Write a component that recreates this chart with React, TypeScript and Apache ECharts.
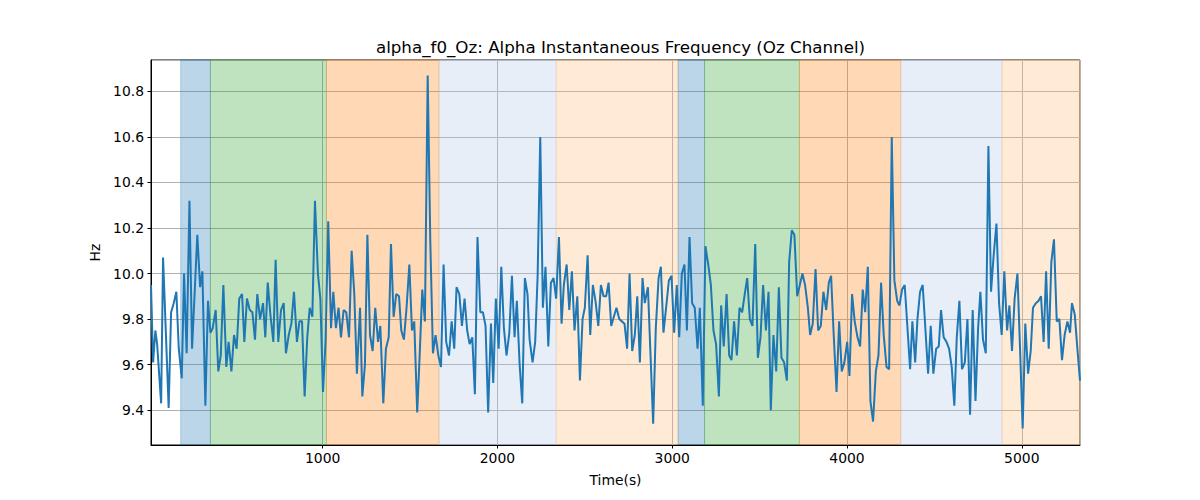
import React, { useEffect, useRef } from 'react';
import * as echarts from 'echarts';

// sample times (s) and alpha instantaneous frequency (Hz)
const times = [
  18, 30, 43, 53, 76, 87, 119, 133, 148, 163, 177, 194, 207, 222, 238, 253, 283, 299, 312, 329,
  344, 358, 371, 388, 403, 417, 432, 449, 462, 478, 493, 508, 523, 539, 552, 567, 583, 598, 613, 626,
  642, 659, 672, 686, 701, 718, 731, 746, 762, 777, 790, 806, 821, 836, 853, 867, 882, 897, 912, 926,
  941, 956, 973, 987, 1002, 1017, 1032, 1048, 1061, 1076, 1091,
  1105, 1120, 1135, 1151, 1166, 1181, 1196, 1214, 1227, 1242, 1256, 1271, 1286, 1301, 1317, 1330, 1347, 1362, 1378, 1391,
  1406, 1421, 1437, 1450, 1465, 1480, 1496, 1511, 1524, 1541, 1555, 1570, 1585, 1601, 1616, 1631, 1646, 1662, 1677, 1692,
  1707, 1723, 1738, 1753, 1766, 1782, 1797, 1812, 1827, 1841, 1856, 1871, 1886, 1902, 1917, 1932, 1947, 1963, 1976, 1991,
  2007, 2022, 2037, 2052, 2068, 2083, 2098, 2111, 2127, 2142, 2157, 2172,
  2184, 2201, 2216, 2230, 2245, 2260, 2275, 2291, 2306, 2321, 2336, 2352, 2367, 2380, 2396, 2411, 2426, 2441, 2457, 2472,
  2487, 2500, 2516, 2531, 2546, 2561, 2577, 2592, 2607, 2622, 2636, 2651, 2666, 2681, 2697, 2712, 2727, 2742, 2756, 2771,
  2786, 2800, 2815, 2830, 2843, 2861, 2876, 2891, 2906, 2922, 2935, 2950, 2965, 2981, 2996, 3011, 3026, 3040, 3055, 3070,
  3084, 3099, 3114, 3129, 3145, 3158, 3175, 3190, 3206, 3221, 3236, 3251, 3267,
  3280, 3295, 3311, 3326, 3339, 3354, 3370, 3385, 3400, 3415, 3429, 3444, 3459, 3475, 3490, 3505, 3520, 3536, 3551, 3564,
  3579, 3595, 3610, 3625, 3640, 3656, 3669, 3684, 3699, 3715, 3730, 3745, 3760, 3776, 3789, 3804, 3820, 3835, 3850, 3865,
  3881, 3896, 3909, 3924, 3940, 3955, 3970, 3985, 4001, 4014, 4029, 4044, 4060, 4075, 4090, 4104, 4119, 4134, 4149, 4165,
  4180, 4195, 4210, 4226, 4241, 4256, 4271, 4287, 4300, 4315, 4330, 4346, 4361,
  4374, 4390, 4403, 4418, 4433, 4449, 4464, 4479, 4494, 4510, 4525, 4538, 4553, 4569, 4584, 4599, 4614, 4628, 4643, 4658,
  4674, 4689, 4704, 4719, 4735, 4750, 4763, 4778, 4794, 4809, 4824, 4839, 4855, 4870, 4885, 4900, 4916, 4929, 4944, 4959,
  4975, 4990, 5005, 5020, 5036, 5051, 5064, 5080, 5095, 5110, 5125, 5139, 5154, 5169, 5184, 5200, 5215, 5230, 5245, 5261,
  5276, 5287, 5303, 5318, 5333,
];

const hz = [
  9.95, 9.61, 9.75, 9.69, 9.43, 10.07, 9.41, 9.83, 9.87, 9.92, 9.67, 9.54, 10.0, 9.65, 10.32, 9.67, 10.17, 9.94, 10.01, 9.42,
  9.88, 9.74, 9.76, 9.84, 9.57, 9.64, 9.95, 9.59, 9.7, 9.57, 9.73, 9.67, 9.89, 9.91, 9.7, 9.89, 9.84, 9.83, 9.71, 9.91,
  9.8, 9.87, 9.72, 9.96, 9.82, 9.7, 10.06, 9.7, 9.84, 9.87, 9.65, 9.73, 9.78, 9.92, 9.7, 9.79, 9.79, 9.46, 9.72, 9.85,
  9.81, 10.32, 10.0, 9.89, 9.48, 9.71, 10.23, 9.76, 9.92, 9.76, 9.85,
  9.72, 9.84, 9.83, 9.72, 10.1, 9.91, 9.56, 9.85, 9.46, 9.6, 10.17, 9.73, 9.66, 9.85, 9.7, 9.77, 9.43, 9.67, 9.72, 10.13,
  9.81, 9.91, 9.9, 9.75, 9.71, 9.85, 10.04, 9.75, 9.79, 9.39, 9.64, 9.93, 9.79, 10.87, 10.14, 9.65, 9.73, 9.64, 9.59, 10.04,
  9.7, 9.64, 9.79, 9.67, 9.94, 9.91, 9.77, 9.89, 9.75, 9.69, 9.72, 9.47, 10.16, 9.83, 9.83, 9.77, 9.39, 9.78, 9.52, 9.89,
  9.67, 10.03, 9.76, 9.64, 9.74, 9.99, 9.72, 9.88, 9.6, 9.43, 9.98, 9.91,
  9.71, 9.61, 9.7, 9.99, 10.6, 9.85, 10.03, 9.68, 9.96, 9.98, 9.89, 10.16, 9.78, 9.95, 10.04, 9.84, 10.01, 9.75, 9.9, 9.53,
  9.8, 9.85, 10.08, 9.73, 9.95, 9.88, 9.77, 9.95, 9.9, 9.9, 9.96, 9.77, 9.81, 9.85, 9.8, 9.79, 9.78, 9.67, 10.0, 9.66,
  9.73, 9.9, 9.61, 9.98, 9.87, 9.94, 9.64, 9.34, 9.76, 9.98, 10.03, 9.74, 9.85, 9.97, 9.99, 9.74, 9.95, 9.72, 10.0, 10.04,
  9.75, 10.16, 9.87, 9.85, 9.67, 9.85, 9.42, 10.12, 10.04, 9.95, 9.75, 9.69, 9.46,
  9.86, 9.68, 9.91, 9.64, 9.62, 9.79, 9.64, 9.85, 9.83, 9.91, 9.98, 9.8, 9.77, 10.13, 9.63, 9.72, 9.95, 9.75, 9.92, 9.4,
  9.73, 9.57, 9.94, 9.63, 9.61, 9.53, 10.05, 10.19, 10.17, 9.9, 9.95, 10.0, 9.95, 9.85, 9.73, 9.78, 10.02, 9.75, 9.77, 9.92,
  9.84, 9.96, 9.99, 9.73, 9.48, 9.79, 9.57, 9.61, 9.7, 9.55, 9.91, 9.79, 9.72, 9.68, 9.93, 9.83, 10.03, 9.44, 9.35, 9.57,
  9.64, 9.96, 9.73, 9.59, 9.58, 10.6, 9.97, 9.88, 9.86, 9.93, 9.95, 9.76, 9.58,
  9.79, 9.61, 9.8, 9.92, 9.95, 9.75, 9.56, 9.77, 9.56, 9.67, 9.68, 9.84, 9.72, 9.7, 9.67, 9.59, 9.42, 9.72, 9.88, 9.58,
  9.61, 9.8, 9.38, 9.84, 9.44, 9.76, 9.92, 9.71, 9.65, 10.56, 9.92, 10.08, 10.22, 9.87, 9.73, 10.01, 9.75, 9.86, 9.66, 9.89,
  10.0, 9.67, 9.32, 9.78, 9.56, 9.66, 9.85, 9.87, 9.88, 9.9, 9.7, 10.01, 9.67, 10.05, 10.15, 9.79, 9.8, 9.62, 9.73, 9.79,
  9.74, 9.87, 9.82, 9.67, 9.53,
];

// shaded segments (time ranges) and their colours
const spanStarts = [188, 358, 1022, 1666, 2336, 3034, 3185, 3728, 4308, 4887];
const spanEnds = [358, 1022, 1666, 2336, 3034, 3185, 3728, 4308, 4887, 5333];
const spanColors = [
  '#1f77b4', '#2ca02c', '#ff7f0e', '#aec7e8', '#ffbb78',
  '#1f77b4', '#2ca02c', '#ff7f0e', '#aec7e8', '#ffbb78',
];

const xMin = 18;
const xMax = 5333;
const yMin = 9.247;
const yMax = 10.938;

const FONT = 'DejaVu Sans, sans-serif';

const App: React.FC = () => {
  const chartRef = useRef<HTMLDivElement>(null);

  useEffect(() => {
    if (!chartRef.current) return;
    const chart = echarts.init(chartRef.current, undefined, { renderer: 'svg' });

    const areas = spanStarts.map((s, i) => [
      {
        xAxis: s,
        itemStyle: {
          color: spanColors[i],
          opacity: 0.3,
          borderColor: spanColors[i],
          borderWidth: 1,
        },
      },
      { xAxis: spanEnds[i] },
    ]);

    chart.setOption({
      animation: false,
      title: {
        text: 'alpha_f0_Oz: Alpha Instantaneous Frequency (Oz Channel)',
        left: 615.5,
        top: 33,
        textAlign: 'center',
        textStyle: { fontFamily: FONT, fontSize: 16.7, fontWeight: 'normal', color: '#000' },
      },
      grid: {
        left: 151,
        right: 120,
        top: 60,
        bottom: 55,
        show: true,
        borderColor: '#000',
        borderWidth: 1,
        backgroundColor: 'transparent',
        z: 1,
      },
      xAxis: {
        type: 'value',
        min: xMin,
        max: xMax,
        splitNumber: 5,
        name: 'Time(s)',
        nameLocation: 'middle',
        nameGap: 28,
        nameTextStyle: { fontFamily: FONT, fontSize: 13.9, color: '#000' },
        axisLine: { show: true, lineStyle: { color: '#000', width: 1 } },
        axisTick: { show: true, length: 3.5, lineStyle: { color: '#000', width: 1 } },
        axisLabel: {
          fontFamily: FONT,
          fontSize: 13.9,
          color: '#000',
          margin: 6,
          showMinLabel: false,
          showMaxLabel: false,
          formatter: (v: number) => String(v),
        },
        splitLine: { show: true, lineStyle: { color: '#b0b0b0', width: 1 } },
        z: 1,
      },
      yAxis: {
        type: 'value',
        min: yMin,
        max: yMax,
        splitNumber: 8,
        name: 'Hz',
        nameLocation: 'middle',
        nameGap: 46,
        nameTextStyle: { fontFamily: FONT, fontSize: 13.9, color: '#000' },
        axisLine: { show: true, lineStyle: { color: '#000', width: 1 } },
        axisTick: { show: true, length: 3.5, lineStyle: { color: '#000', width: 1 } },
        axisLabel: {
          fontFamily: FONT,
          fontSize: 13.9,
          color: '#000',
          margin: 7,
          showMinLabel: false,
          showMaxLabel: false,
          formatter: (v: number) => v.toFixed(1),
        },
        splitLine: { show: true, lineStyle: { color: '#b0b0b0', width: 1 } },
        z: 1,
      },
      series: [
        {
          // holds the shaded segments only, drawn beneath the grid lines
          type: 'line',
          data: [],
          symbol: 'none',
          z: 0,
          markArea: {
            silent: true,
            data: areas,
          },
        },
        {
          type: 'line',
          data: times.map((t, i) => [t, hz[i]]),
          showSymbol: false,
          symbol: 'none',
          lineStyle: { color: '#1f77b4', width: 2 },
          z: 3,
        },
      ],
    });

    return () => {
      chart.dispose();
    };
  }, []);

  return (
    <div
      ref={chartRef}
      style={{ position: 'fixed', left: 0, top: 0, width: 1200, height: 500, background: '#fff' }}
    />
  );
};

export default App;
